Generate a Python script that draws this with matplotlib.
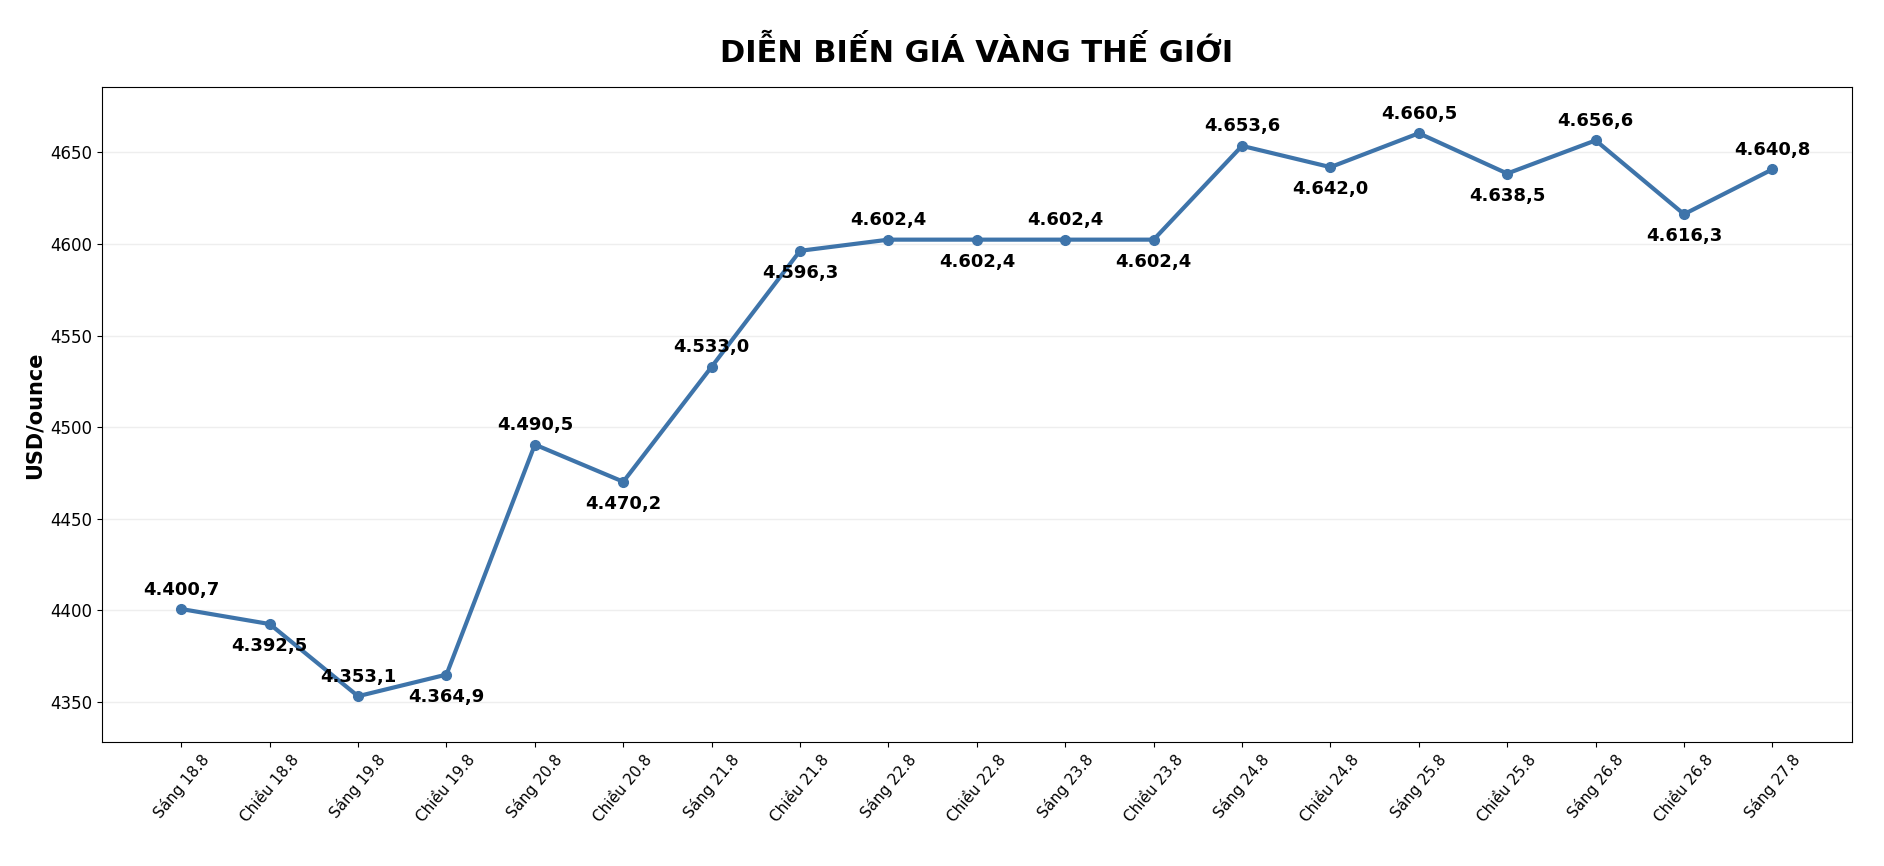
import matplotlib
matplotlib.use("Agg")
import matplotlib.pyplot as plt

labels = ["Sáng 18.8","Chiều 18.8","Sáng 19.8","Chiều 19.8","Sáng 20.8","Chiều 20.8",
          "Sáng 21.8","Chiều 21.8","Sáng 22.8","Chiều 22.8","Sáng 23.8","Chiều 23.8",
          "Sáng 24.8","Chiều 24.8","Sáng 25.8","Chiều 25.8","Sáng 26.8","Chiều 26.8","Sáng 27.8"]
values = [4400.7,4392.5,4353.1,4364.9,4490.5,4470.2,4533.0,4596.3,4602.4,4602.4,
          4602.4,4602.4,4653.6,4642.0,4660.5,4638.5,4656.6,4616.3,4640.8]

fig = plt.figure(figsize=(18.84, 8.66), dpi=100)
ax = fig.add_axes([0.054, 0.143, 0.929, 0.756])
x = list(range(len(values)))
ax.plot(x, values, color="#3e74aa", lw=3, marker="o", ms=7)
for i, v in enumerate(values):
    txt = f"{v:,.1f}".replace(",", "X").replace(".", ",").replace("X", ".")
    off = 14 if i % 2 == 0 else -16
    ax.annotate(txt, (i, v), xytext=(0, off), textcoords="offset points",
                ha="center", va="center", fontsize=13, fontweight="bold")
ax.set_xlim(-0.9, 18.9)
ax.set_ylim(4328, 4685.5)
ax.set_xticks(x)
ax.set_xticklabels(labels, rotation=50, fontsize=11)
ax.set_yticks([4350, 4400, 4450, 4500, 4550, 4600, 4650])
ax.tick_params(axis="y", labelsize=12)
ax.grid(axis="y", color="#eeeeee", lw=1)
ax.set_axisbelow(True)
ax.set_ylabel("USD/ounce", fontsize=15, fontweight="bold")
ax.set_title("DIỄN BIẾN GIÁ VÀNG THẾ GIỚI", fontsize=22, fontweight="bold", pad=18)
fig.savefig("out.png", dpi=100)
